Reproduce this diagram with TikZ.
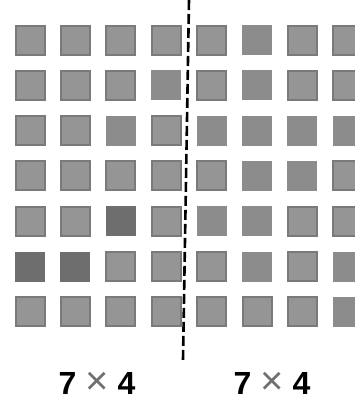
\documentclass[tikz,border=0pt]{standalone}
\usepackage{fontspec}
\setmainfont{Liberation Sans}
\usetikzlibrary{positioning}
\definecolor{texgray}{HTML}{959595}
\definecolor{rimgray}{HTML}{7A7A7A}
\definecolor{solidgray}{HTML}{8C8C8C}
\definecolor{darkgray}{HTML}{6E6E6E}
\definecolor{crossgray}{HTML}{707070}
\newcommand{\dimcross}{{\mdseries\color{crossgray}\scalebox{1.25}{×}}}
\tikzset{
  texsq/.style={
    shape = rectangle,
    minimum size = 29pt,
    inner sep = 0pt,
    draw = rimgray,
    line width = 2pt,
    fill = texgray
  },
  solidsq/.style={
    shape = rectangle,
    minimum size = 30pt,
    inner sep = 0pt,
    fill = solidgray
  },
  darksq/.style={
    shape = rectangle,
    minimum size = 30pt,
    inner sep = 0pt,
    fill = darkgray
  },
}
\tikzset{
  divider/.style={
    line width = 2.6pt,
    dash pattern = on 10pt off 4pt
  },
  dims/.style={
    font = \fontsize{32}{32}\selectfont\bfseries,
    inner sep = 1pt,
    text height = 23pt,
    text depth = 0pt,
    anchor = base
  }
}

\begin{document}
\begin{tikzpicture}[x=1pt,y=-1pt]
		  \useasboundingbox (0,0) rectangle (355,400);
		  \foreach \row [count=\r] in {
		      {tex,tex,tex,tex,tex,solid,tex,tex},
		      {tex,tex,tex,solid,tex,solid,tex,tex},
		      {tex,tex,solid,tex,solid,solid,solid,solid},
		      {tex,tex,tex,tex,tex,solid,solid,tex},
		      {tex,tex,dark,tex,solid,solid,tex,tex},
		      {dark,dark,tex,tex,tex,solid,tex,solid},
		      {tex,tex,tex,tex,tex,tex,tex,solid}}{
		    \foreach \kind [count=\c] in \row {
		      \node[\kind sq] (sq\r\c) at ({30+45.4*(\c-1)},{40+45.3*(\r-1)}) {};
		    }
		  }
		  \coordinate (cuttop) at (189,0);
		  \coordinate (cutbot) at (183,360);
		  \draw[divider] (cuttop) -- (cutbot);
		  \node[dims] (leftdim) at (97,394) {7 \dimcross{} 4};
		  \node[dims] (rightdim) at (272,394) {7 \dimcross{} 4};
		\end{tikzpicture}
\end{document}
